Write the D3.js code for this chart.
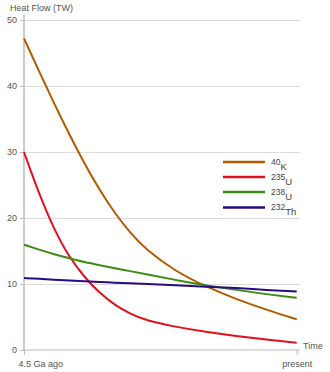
<!DOCTYPE html>
<html>
<head>
<meta charset="utf-8">
<script src="https://cdn.jsdelivr.net/npm/d3@7"></script>
<style>
  html, body { margin: 0; padding: 0; background: #fff; }
  svg { display: block; font-family: "Liberation Sans", Arial, sans-serif; }
</style>
</head>
<body>
<svg id="chart" width="330" height="372"></svg>
<script>
// Time in Ga since 4.5 Ga ago
const times = [0, 0.25, 0.5, 0.75, 1, 1.25, 1.5, 1.75, 2, 2.5, 3, 3.5, 4, 4.5];
const k40   = [47.2, 42.2, 37.3, 32.6, 28.2, 24.2, 20.7, 17.8, 15.3, 11.9, 9.6, 7.7, 6.1, 4.65];
const u235  = [30.0, 23.6, 18.2, 14.0, 11.0, 8.6, 6.8, 5.5, 4.5, 3.5, 2.75, 2.12, 1.6, 1.1];
const u238  = [15.95, 15.2, 14.5, 13.9, 13.3, 12.85, 12.4, 11.95, 11.5, 10.6, 9.8, 9.1, 8.45, 7.9];
const th232 = [10.9, 10.78, 10.65, 10.52, 10.4, 10.3, 10.2, 10.1, 10.0, 9.8, 9.6, 9.4, 9.1, 8.85];
const seriesNames = [["40", "K"], ["235", "U"], ["238", "U"], ["232", "Th"]];
const seriesColors = ["#b35a00", "#e2101e", "#3c8c14", "#2a0a82"];
const yTicks = [0, 10, 20, 30, 40, 50];
const xTickValues = [0, 4.5];
const xTickLabels = ["4.5 Ga ago", "present"];

const svg = d3.select("#chart");
const x = d3.scaleLinear().domain([0, 4.5]).range([24, 296.7]);
const y = d3.scaleLinear().domain([0, 50]).range([350, 20]);

// gridlines
svg.append("g")
  .attr("transform", "translate(24,0)")
  .call(d3.axisLeft(y).tickValues(yTicks.filter(d => d > 0)).tickSize(-276).tickFormat(""))
  .call(g => g.select(".domain").remove())
  .call(g => g.selectAll("line").attr("stroke", "#dcdcdc").attr("stroke-width", 1));

// y axis ticks + labels
svg.append("g")
  .attr("transform", "translate(24,0)")
  .call(d3.axisLeft(y).tickValues(yTicks).tickSize(4).tickPadding(3))
  .call(g => g.select(".domain").remove())
  .call(g => g.selectAll("line").attr("stroke", "#bbb"))
  .call(g => g.selectAll("text").attr("fill", "#555").attr("font-size", 9)
     .attr("font-family", "Liberation Sans, Arial, sans-serif"));

// x axis
const xg = svg.append("g")
  .attr("transform", "translate(0,350)")
  .call(d3.axisBottom(x).tickValues(xTickValues).tickSize(5).tickPadding(6)
    .tickFormat((d, i) => xTickLabels[i]))
  .call(g => g.select(".domain").remove())
  .call(g => g.selectAll("line").attr("stroke", "#bbb"))
  .call(g => g.selectAll("text").attr("fill", "#555").attr("font-size", 9)
     .attr("font-family", "Liberation Sans, Arial, sans-serif"));
xg.selectAll(".tick").filter((d, i) => i === 0).select("text")
  .attr("text-anchor", "start").attr("x", -6);

// axis lines
svg.append("line").attr("x1", 24).attr("x2", 300).attr("y1", y(0)).attr("y2", y(0))
  .attr("stroke", "#bbb").attr("stroke-width", 1);
svg.append("line").attr("x1", 24).attr("x2", 24).attr("y1", 15).attr("y2", 350)
  .attr("stroke", "#ccc").attr("stroke-width", 2);

// axis titles
svg.append("text").attr("x", 10).attr("y", 10.5).attr("fill", "#555").attr("font-size", 9)
  .text("Heat Flow (TW)");
svg.append("text").attr("x", 303).attr("y", 349).attr("fill", "#555").attr("font-size", 9)
  .text("Time");

// series
const allSeries = [k40, u235, u238, th232];
const line = d3.line().x((d, i) => x(times[i])).y(d => y(d)).curve(d3.curveBasis);
[0, 1, 2, 3].forEach(si => {
  svg.append("path")
    .datum(allSeries[si])
    .attr("fill", "none")
    .attr("stroke", seriesColors[si])
    .attr("stroke-width", 2)
    .attr("stroke-linejoin", "round")
    .attr("d", line);
});

// legend
const legendRowY = [162, 177, 192, 207.5];
seriesNames.forEach((nm, i) => {
  const gy = legendRowY[i];
  svg.append("line").attr("x1", 223).attr("x2", 265).attr("y1", gy).attr("y2", gy)
    .attr("stroke", seriesColors[i]).attr("stroke-width", 2.5);
  const t = svg.append("text").attr("x", 271).attr("y", gy + 2.5).attr("fill", "#444");
  t.append("tspan").attr("font-size", 8.5).text(nm[0]);
  t.append("tspan").attr("font-size", 9.5).attr("dy", 5).text(nm[1]);
});
</script>
</body>
</html>
